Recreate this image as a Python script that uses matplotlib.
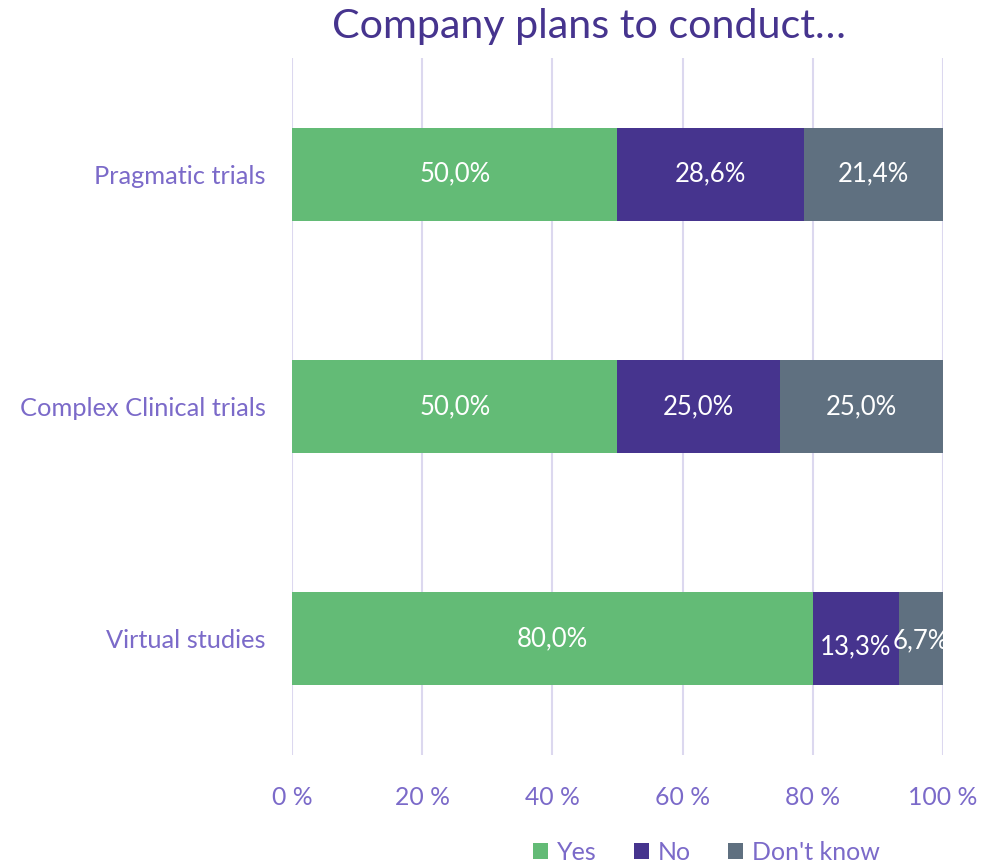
import numpy as np
import matplotlib.pyplot as plt

# data
categories = ["Pragmatic trials", "Complex Clinical trials", "Virtual studies"]
yes = [50.0, 50.0, 80.0]
no = [28.6, 25.0, 13.3]
dont_know = [21.4, 25.0, 6.7]
series_names = ["Yes", "No", "Don't know"]
tick_vals = [0, 20, 40, 60, 80, 100]

colors = ["#63BB76", "#46348E", "#5F7080"]
label_col = "#7B6AC9"
title_col = "#46348E"
grid_col = "#DCD8EF"

plt.rcParams['font.family'] = ['Lato', 'DejaVu Sans']

fig = plt.figure(figsize=(10.02, 8.67), dpi=100)
ax = fig.add_axes([0.2914, 0.1292, 0.6497, 0.804])

y = np.arange(len(categories))
left = np.zeros(len(categories))
for vals, name, c in zip([yes, no, dont_know], series_names, colors):
    vals = np.array(vals)
    bars = ax.barh(y, vals, left=left, height=0.4, color=c, label=name, zorder=3)
    for i, (b, v) in enumerate(zip(bars, vals)):
        # excel nudges the small labels a bit
        dy = 0.0
        if v < 15 and v > 10:
            dy = 0.035
        elif v < 10:
            dy = 0.01
        ax.text(left[i] + v / 2, y[i] + dy, f"{v:.1f}%".replace(".", ","),
                ha="center", va="center", color="white", fontsize=18.5, zorder=4)
    left += vals

ax.set_xlim(0, 100)
ax.set_ylim(2.5, -0.5)
ax.set_yticks(y)
ax.set_yticklabels(categories, color=label_col, fontsize=18.3)
ax.set_xticks(tick_vals)
ax.set_xticklabels([f"{t} %" for t in tick_vals], color=label_col, fontsize=17.8)
ax.tick_params(axis="both", length=0)
ax.tick_params(axis="y", pad=19)
ax.tick_params(axis="x", pad=22)
ax.grid(axis="x", color=grid_col, linewidth=1.5, zorder=0)
for s in ax.spines.values():
    s.set_visible(False)

fig.text(0.588, 0.97, "Company plans to conduct…", ha="center", va="center",
         fontsize=29.7, color=title_col)

leg = fig.legend(loc="center", bbox_to_anchor=(0.705, 0.017), ncol=3, frameon=False,
                 fontsize=18, handlelength=0.6, handleheight=0.6, columnspacing=1.5,
                 handletextpad=0.35)
for t in leg.get_texts():
    t.set_color(label_col)

fig.savefig("out.png", dpi=100)
